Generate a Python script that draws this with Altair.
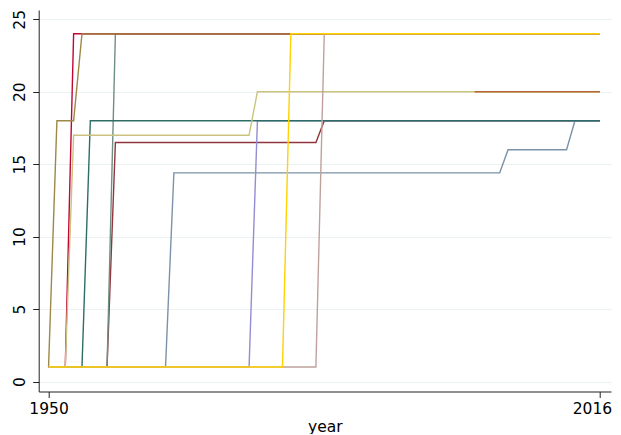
import altair as alt
import pandas as pd

# Series (breakpoints): years and values
maroon_years = [1950, 1957, 1958, 1982, 1983, 2016]
maroon_vals = [1, 1, 16.5, 16.5, 18, 18]

emidblue_years = [1950, 1964, 1965, 2004, 2005, 2012, 2013, 2016]
emidblue_vals = [1, 1, 14.4, 14.4, 16, 16, 18, 18]

lavender_years = [1950, 1974, 1975, 2016]
lavender_vals = [1, 1, 18, 18]

teal_years = [1950, 1957, 1958, 2016]
teal_vals = [1, 1, 24, 24]

cranberry_years = [1950, 1952, 1953, 2016]
cranberry_vals = [1, 1, 24, 24]

emerald_years = [1950, 1954, 1955, 2016]
emerald_vals = [1, 1, 18, 18]

brown_years = [1950, 1951, 1953, 1954, 2016]
brown_vals = [1, 18, 18, 24, 24]

khaki_years = [1950, 1952, 1953, 1974, 1975, 2016]
khaki_vals = [1, 1, 17, 17, 20, 20]

sienna_years = [1954, 2016]
sienna_vals = [24, 24]

sienna2_years = [2001, 2016]
sienna2_vals = [20, 20]

erose_years = [1950, 1982, 1983, 2016]
erose_vals = [1, 1, 24, 24]

gold_years = [1950, 1978, 1979, 2016]
gold_vals = [1, 1, 24, 24]

x_tick_values = [1950, 2016]
y_tick_values = [0, 5, 10, 15, 20, 25]

# drawing order bottom -> top
series = [
    ("maroon", maroon_years, maroon_vals, "#90353b"),
    ("emidblue", emidblue_years, emidblue_vals, "#7b92a8"),
    ("lavender", lavender_years, lavender_vals, "#938dd2"),
    ("teal", teal_years, teal_vals, "#6e8e84"),
    ("cranberry", cranberry_years, cranberry_vals, "#c10534"),
    ("emerald", emerald_years, emerald_vals, "#2d6d66"),
    ("brown", brown_years, brown_vals, "#9c8847"),
    ("khaki", khaki_years, khaki_vals, "#cac27e"),
    ("sienna", sienna_years, sienna_vals, "#a56e40"),
    ("sienna2", sienna2_years, sienna2_vals, "#b5652f"),
    ("erose", erose_years, erose_vals, "#bfa19c"),
    ("gold", gold_years, gold_vals, "#ffd200"),
]

FONT = "DejaVu Sans"
FS = 15.5

x_scale = alt.Scale(domain=[1948.82, 2017.32], nice=False, zero=False)
y_scale = alt.Scale(domain=[-0.69, 25.64], nice=False, zero=False)

x_axis = alt.Axis(
    values=x_tick_values, format="d", title="year", grid=False,
    tickSize=6, labelPadding=15.8, labelBaseline="alphabetic",
    labelOffset={"condition": {"test": "datum.value == 2016", "value": -8}, "value": 0},
    labelFont=FONT, labelFontSize=FS, labelColor="#000",
    titleFont=FONT, titleFontSize=FS, titleFontWeight="normal", titleColor="#000",
    titleBaseline="alphabetic", titleY=39.5,
    domainColor="#222", tickColor="#222", domainWidth=1, tickWidth=1,
    labelFlush=False, labelOverlap=False,
)
y_axis = alt.Axis(
    values=y_tick_values, title=None, grid=True,
    gridColor="#eaf2f3", gridWidth=1,
    tickSize=6, labelAngle=-90, labelAlign="center", labelBaseline="alphabetic",
    labelPadding=8.4, labelFont=FONT, labelFontSize=FS, labelColor="#000",
    domainColor="#222", tickColor="#222", domainWidth=1, tickWidth=1,
    labelFlush=False, labelOverlap=False,
)

layers = []
for name, yrs, vals, col in series:
    df = pd.DataFrame({"year": yrs, "value": vals})
    ch = alt.Chart(df).mark_line(color=col, strokeWidth=1.4, clip=True).encode(
        x=alt.X("year:Q", scale=x_scale, axis=x_axis),
        y=alt.Y("value:Q", scale=y_scale, axis=y_axis),
    )
    layers.append(ch)

chart = alt.layer(*layers).properties(
    width=572.3,
    height=381.5,
    autosize=alt.AutoSizeParams(type="none"),
    padding={"left": 30.7, "top": 2, "right": 1, "bottom": 42.5},
    background="white",
).configure_view(stroke=None)

chart.save("out.html", embed_options={"renderer": "svg", "actions": False})
